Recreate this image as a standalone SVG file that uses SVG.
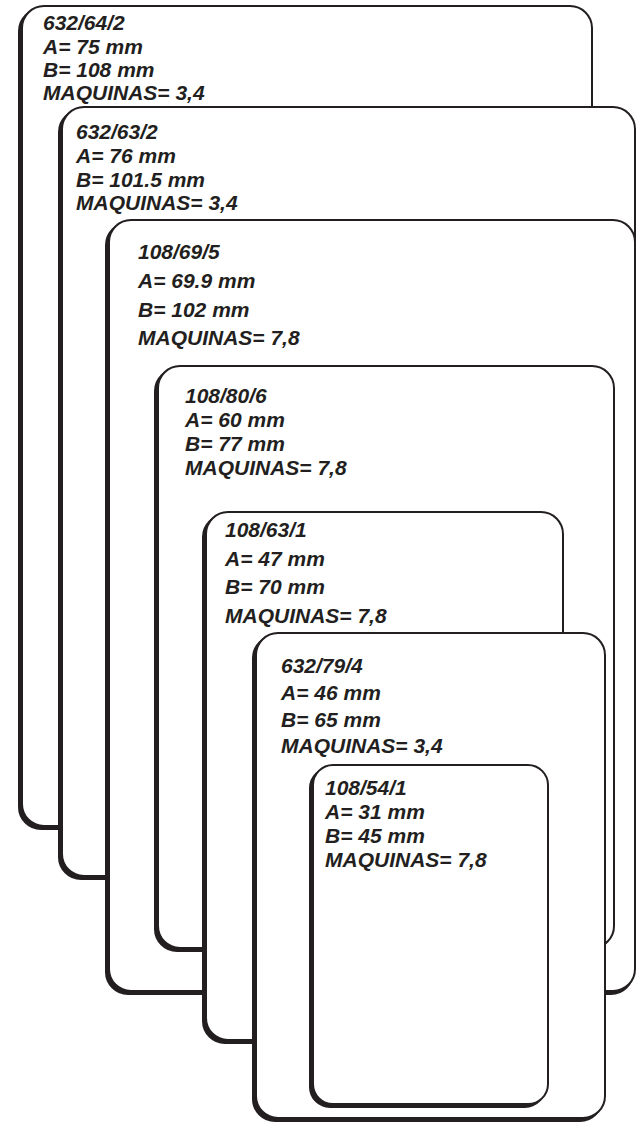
<svg xmlns="http://www.w3.org/2000/svg" width="637" height="1124" viewBox="0 0 637 1124">
<style>
.sh{fill:#231f20;stroke:#231f20;stroke-width:2}
.bx{fill:#fff;stroke:#231f20;stroke-width:2}
text{font-family:"Liberation Sans",Arial,sans-serif;font-weight:bold;font-style:italic;font-size:21px;fill:#231f20}
</style>
<rect width="637" height="1124" fill="#fff"/>
<g id="box1">
<rect class="sh" x="19" y="9" width="570" height="820" rx="22"/>
<rect class="bx" x="22" y="6" width="570" height="820" rx="22"/>
<text x="43" y="30">632/64/2</text>
<text x="43" y="54">A= 75 mm</text>
<text x="43" y="77">B= 108 mm</text>
<text x="43" y="100">MAQUINAS= 3,4</text>
</g>
<g id="box2">
<rect class="sh" x="59" y="110" width="575" height="769" rx="22"/>
<rect class="bx" x="62" y="107" width="573" height="769" rx="22"/>
<text x="76" y="139">632/63/2</text>
<text x="76" y="163">A= 76 mm</text>
<text x="76" y="187">B= 101.5 mm</text>
<text x="76" y="210">MAQUINAS= 3,4</text>
</g>
<g id="box3">
<rect class="sh" x="106" y="223" width="527" height="771" rx="22"/>
<rect class="bx" x="109" y="220" width="526" height="771" rx="22"/>
<text x="138" y="259">108/69/5</text>
<text x="138" y="288">A= 69.9 mm</text>
<text x="138" y="317">B= 102 mm</text>
<text x="138" y="345">MAQUINAS= 7,8</text>
</g>
<g id="box4">
<rect class="sh" x="155" y="369" width="456" height="582" rx="22"/>
<rect class="bx" x="158" y="366" width="456" height="582" rx="22"/>
<text x="185" y="403">108/80/6</text>
<text x="185" y="427">A= 60 mm</text>
<text x="185" y="451">B= 77 mm</text>
<text x="185" y="475">MAQUINAS= 7,8</text>
</g>
<g id="box5">
<rect class="sh" x="203" y="515" width="357" height="528" rx="22"/>
<rect class="bx" x="206" y="512" width="357" height="528" rx="22"/>
<text x="225" y="537">108/63/1</text>
<text x="225" y="566">A= 47 mm</text>
<text x="225" y="594">B= 70 mm</text>
<text x="225" y="623">MAQUINAS= 7,8</text>
</g>
<g id="box6">
<rect class="sh" x="253" y="636" width="349" height="485" rx="22"/>
<rect class="bx" x="256" y="633" width="349" height="485" rx="22"/>
<text x="281" y="673">632/79/4</text>
<text x="281" y="700">A= 46 mm</text>
<text x="281" y="727">B= 65 mm</text>
<text x="281" y="753">MAQUINAS= 3,4</text>
</g>
<g id="box7">
<rect class="sh" x="310" y="768" width="235" height="339" rx="20"/>
<rect class="bx" x="313" y="765" width="235" height="339" rx="20"/>
<text x="325" y="795">108/54/1</text>
<text x="325" y="819">A= 31 mm</text>
<text x="325" y="843">B= 45 mm</text>
<text x="325" y="867">MAQUINAS= 7,8</text>
</g>
<g id="connectors"/>
</svg>
